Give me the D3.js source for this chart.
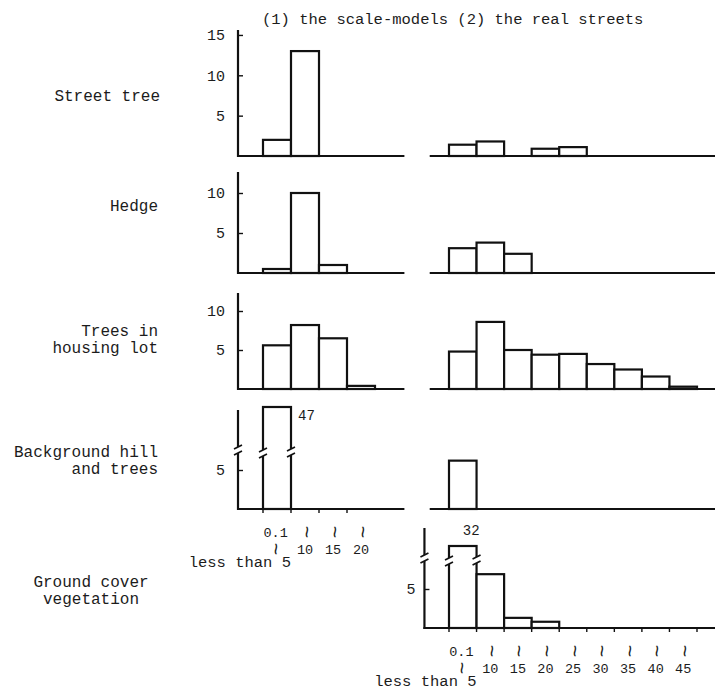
<!DOCTYPE html>
<html>
<head>
<meta charset="utf-8">
<title>Heights of greenery</title>
<style>
    body { margin: 0; background: #fff; }
    text {
        font-family: "Liberation Mono", "DejaVu Sans Mono", monospace;
        fill: #1c1c1c;
    }
    .bar {
        fill: #fff;
        stroke: #111;
        stroke-width: 2.2px;
    }
    .base, .yline {
        stroke: #111;
        stroke-width: 2.2px;
        fill: none;
    }
    .xtick { stroke: #111; stroke-width: 1.4px; }
    .tick line { stroke: #111; stroke-width: 1.4px; }
    .brk { stroke: #111; stroke-width: 1.6px; }
</style>
</head>
<body>
<script src="https://d3js.org/d3.v7.min.js"></script>
<script>
// row labels
var categories = ["Street tree", "Hedge", "Trees in|housing lot", "Background hill|and trees", "Ground cover|vegetation"];

// bins: 0 | 0.1 ~ less than 5 | ~10 | ~15 | ... | ~45
var leftBins  = ["0", "0.1", "10", "15", "20"];
var rightBins = ["0", "0.1", "10", "15", "20", "25", "30", "35", "40", "45"];

// (1) the scale-models
var streetTreeModel = [0, 2, 13, 0, 0];
var hedgeModel      = [0, 0.5, 10, 1, 0];
var housingModel    = [0, 5.6, 8.2, 6.5, 0.4];
var hillModel       = [0, 47, 0, 0, 0];

// (2) the real streets
var streetTreeReal = [0, 1.4, 1.8, 0, 0.9, 1.1, 0, 0, 0, 0];
var hedgeReal      = [0, 3.1, 3.8, 2.4, 0, 0, 0, 0, 0, 0];
var housingReal    = [0, 4.8, 8.6, 5.0, 4.4, 4.5, 3.2, 2.5, 1.6, 0.3];
var hillReal       = [0, 6.2, 0, 0, 0, 0, 0, 0, 0, 0];
var groundReal     = [0, 32, 6.9, 1.3, 0.8, 0, 0, 0, 0, 0];

// y tick labels
var streetTreeTicks = [5, 10, 15];
var hedgeTicks      = [5, 10];
var housingTicks    = [5, 10];
var hillTicks       = [5];
var groundTicks     = [5];

var width = 715, height = 691;

var svg = d3.select("body").append("svg")
    .attr("width", width)
    .attr("height", height);

// bin boundary k -> x
var xL = d3.scaleLinear().domain([1, 5]).range([263, 375]);
var xR = d3.scaleLinear().domain([1, 10]).range([449, 697]);

// layout of each row (pixels)
var rows = [
    {label: categories[0], left: streetTreeModel, right: streetTreeReal, ticks: streetTreeTicks,
     base: 156, unit: 8.07, axisTop: 30, lx: 160, ly: 101},
    {label: categories[1], left: hedgeModel, right: hedgeReal, ticks: hedgeTicks,
     base: 273, unit: 8.0, axisTop: 172, lx: 158, ly: 211},
    {label: categories[2], left: housingModel, right: housingReal, ticks: housingTicks,
     base: 389, unit: 7.8, axisTop: 293, lx: 158, ly: 336},
    {label: categories[3], left: hillModel, right: hillReal, ticks: hillTicks,
     base: 509, unit: 7.8, axisTop: 410, lx: 158, ly: 457, brk: 6.8, max: 47, maxY: 407},
    {label: categories[4], left: null, right: groundReal, ticks: groundTicks,
     base: 628, unit: 7.8, axisTop: 528, lx: 91, ly: 587, anchor: "middle", brk: 8.2, max: 32, maxY: 546}
];

svg.append("text")
    .attr("x", 262)
    .attr("y", 24)
    .style("font-size", "15.5px")
    .text("(1) the scale-models (2) the real streets");

function makeY(r) {
    if (!r.brk) {
        return d3.scaleLinear().domain([0, 10]).range([r.base, r.base - 10 * r.unit]);
    }
    return d3.scaleLinear()
        .domain([0, r.brk, r.max])
        .range([r.base, r.base - r.brk * r.unit, r.maxY]);
}

// little "//" cut on a vertical line
function drawBreak(g, x, yb) {
    g.append("rect")
        .attr("x", x - 4).attr("y", yb - 6)
        .attr("width", 8).attr("height", 6)
        .attr("fill", "#fff");
    [yb - 6, yb].forEach(function(yy) {
        g.append("line").attr("class", "brk")
            .attr("x1", x - 4).attr("y1", yy + 2)
            .attr("x2", x + 4).attr("y2", yy - 2);
    });
}

function drawBars(g, vals, x, y, r) {
    var idx = d3.range(vals.length).filter(function(i) { return vals[i] > 0; });
    g.selectAll("rect.bar")
        .data(idx)
        .enter()
        .append("rect")
        .attr("class", "bar")
        .attr("x", function(i) { return x(i); })
        .attr("width", function(i) { return x(i + 1) - x(i); })
        .attr("y", function(i) { return y(vals[i]); })
        .attr("height", function(i) { return r.base - y(vals[i]); });
    if (r.brk) {
        idx.forEach(function(i) {
            if (vals[i] > r.brk) {
                drawBreak(g, x(i), y(r.brk));
                drawBreak(g, x(i + 1), y(r.brk) - 1);
                g.append("text")
                    .attr("x", r.left ? x(i + 1) + 7 : x(i + 0.5))
                    .attr("y", r.left ? y(vals[i]) + 13 : y(vals[i]) - 11)
                    .style("font-size", "14px")
                    .text(vals[i]);
            }
        });
    }
}

function xLabels(g, x, bins, base) {
    var n = bins.length;
    g.selectAll("line.xtick")
        .data(d3.range(1, n + (n > 5 ? 1 : 0)))
        .enter()
        .append("line")
        .attr("class", "xtick")
        .attr("x1", x).attr("x2", x)
        .attr("y1", base).attr("y2", base + 4);

    g.append("text")
        .attr("x", x(1.45)).attr("y", base + 28)
        .attr("text-anchor", "middle")
        .style("font-size", "13.5px")
        .text(bins[1]);
    g.append("text")
        .attr("x", x(2)).attr("y", base + 58)
        .attr("text-anchor", "end")
        .style("font-size", "15.5px")
        .text("less than 5");

    // wavy range marks
    var waves = [{i: 1.4, row: 45}].concat(d3.range(2, n).map(function(i) { return {i: i + 0.5, row: 28}; }));
    g.selectAll("text.wave")
        .data(waves)
        .enter()
        .append("text")
        .attr("class", "wave")
        .attr("text-anchor", "middle")
        .attr("dominant-baseline", "central")
        .style("font-size", "21px")
        .attr("transform", function(d) {
            return "translate(" + x(d.i) + "," + (base + d.row - 5) + ") rotate(90)";
        })
        .text("~");

    g.selectAll("text.num")
        .data(d3.range(2, n))
        .enter()
        .append("text")
        .attr("class", "num")
        .attr("x", function(i) { return x(i + 0.5); })
        .attr("y", base + 45)
        .attr("text-anchor", "middle")
        .style("font-size", "13.5px")
        .text(function(i) { return bins[i]; });
}

rows.forEach(function(r, k) {
    var g = svg.append("g");
    var y = makeY(r);

    // row label
    var lines = r.label.split("|");
    g.selectAll("text.cat")
        .data(lines)
        .enter()
        .append("text")
        .attr("class", "cat")
        .attr("x", r.lx)
        .attr("y", function(d, j) { return r.ly + j * 16.5; })
        .attr("text-anchor", r.anchor || "end")
        .style("font-size", "16px")
        .text(function(d) { return d; });

    var axisX = r.left ? xL(0) + 3 : xR(0) + 3;
    var yAxis = d3.axisLeft(y)
        .tickValues(r.ticks)
        .tickSizeInner(-5)
        .tickSizeOuter(0)
        .tickPadding(r.left ? 13 : 9);

    var ax = g.append("g")
        .attr("transform", "translate(" + axisX + ",0)")
        .call(yAxis);
    ax.select(".domain").remove();
    ax.selectAll("text")
        .style("font-size", "15px")
        .style("font-family", null);

    g.append("line").attr("class", "yline")
        .attr("x1", axisX).attr("x2", axisX)
        .attr("y1", r.base + 1).attr("y2", r.axisTop);
    if (r.brk) drawBreak(g, axisX, y(r.brk) - 3);

    // baselines
    if (r.left) {
        g.append("line").attr("class", "base")
            .attr("x1", axisX - 1).attr("x2", xL(6.05))
            .attr("y1", r.base).attr("y2", r.base);
        drawBars(g.append("g"), r.left, xL, y, {base: r.base, brk: r.brk, left: true});
    }
    g.append("line").attr("class", "base")
        .attr("x1", r.left ? xR(0.3) : axisX - 1).attr("x2", width)
        .attr("y1", r.base).attr("y2", r.base);
    drawBars(g.append("g"), r.right, xR, y, {base: r.base, brk: r.brk, left: false});

    if (k === 3) xLabels(g.append("g"), xL, leftBins, r.base);
    if (k === 4) xLabels(g.append("g"), xR, rightBins, r.base);
});
</script>
</body>
</html>
